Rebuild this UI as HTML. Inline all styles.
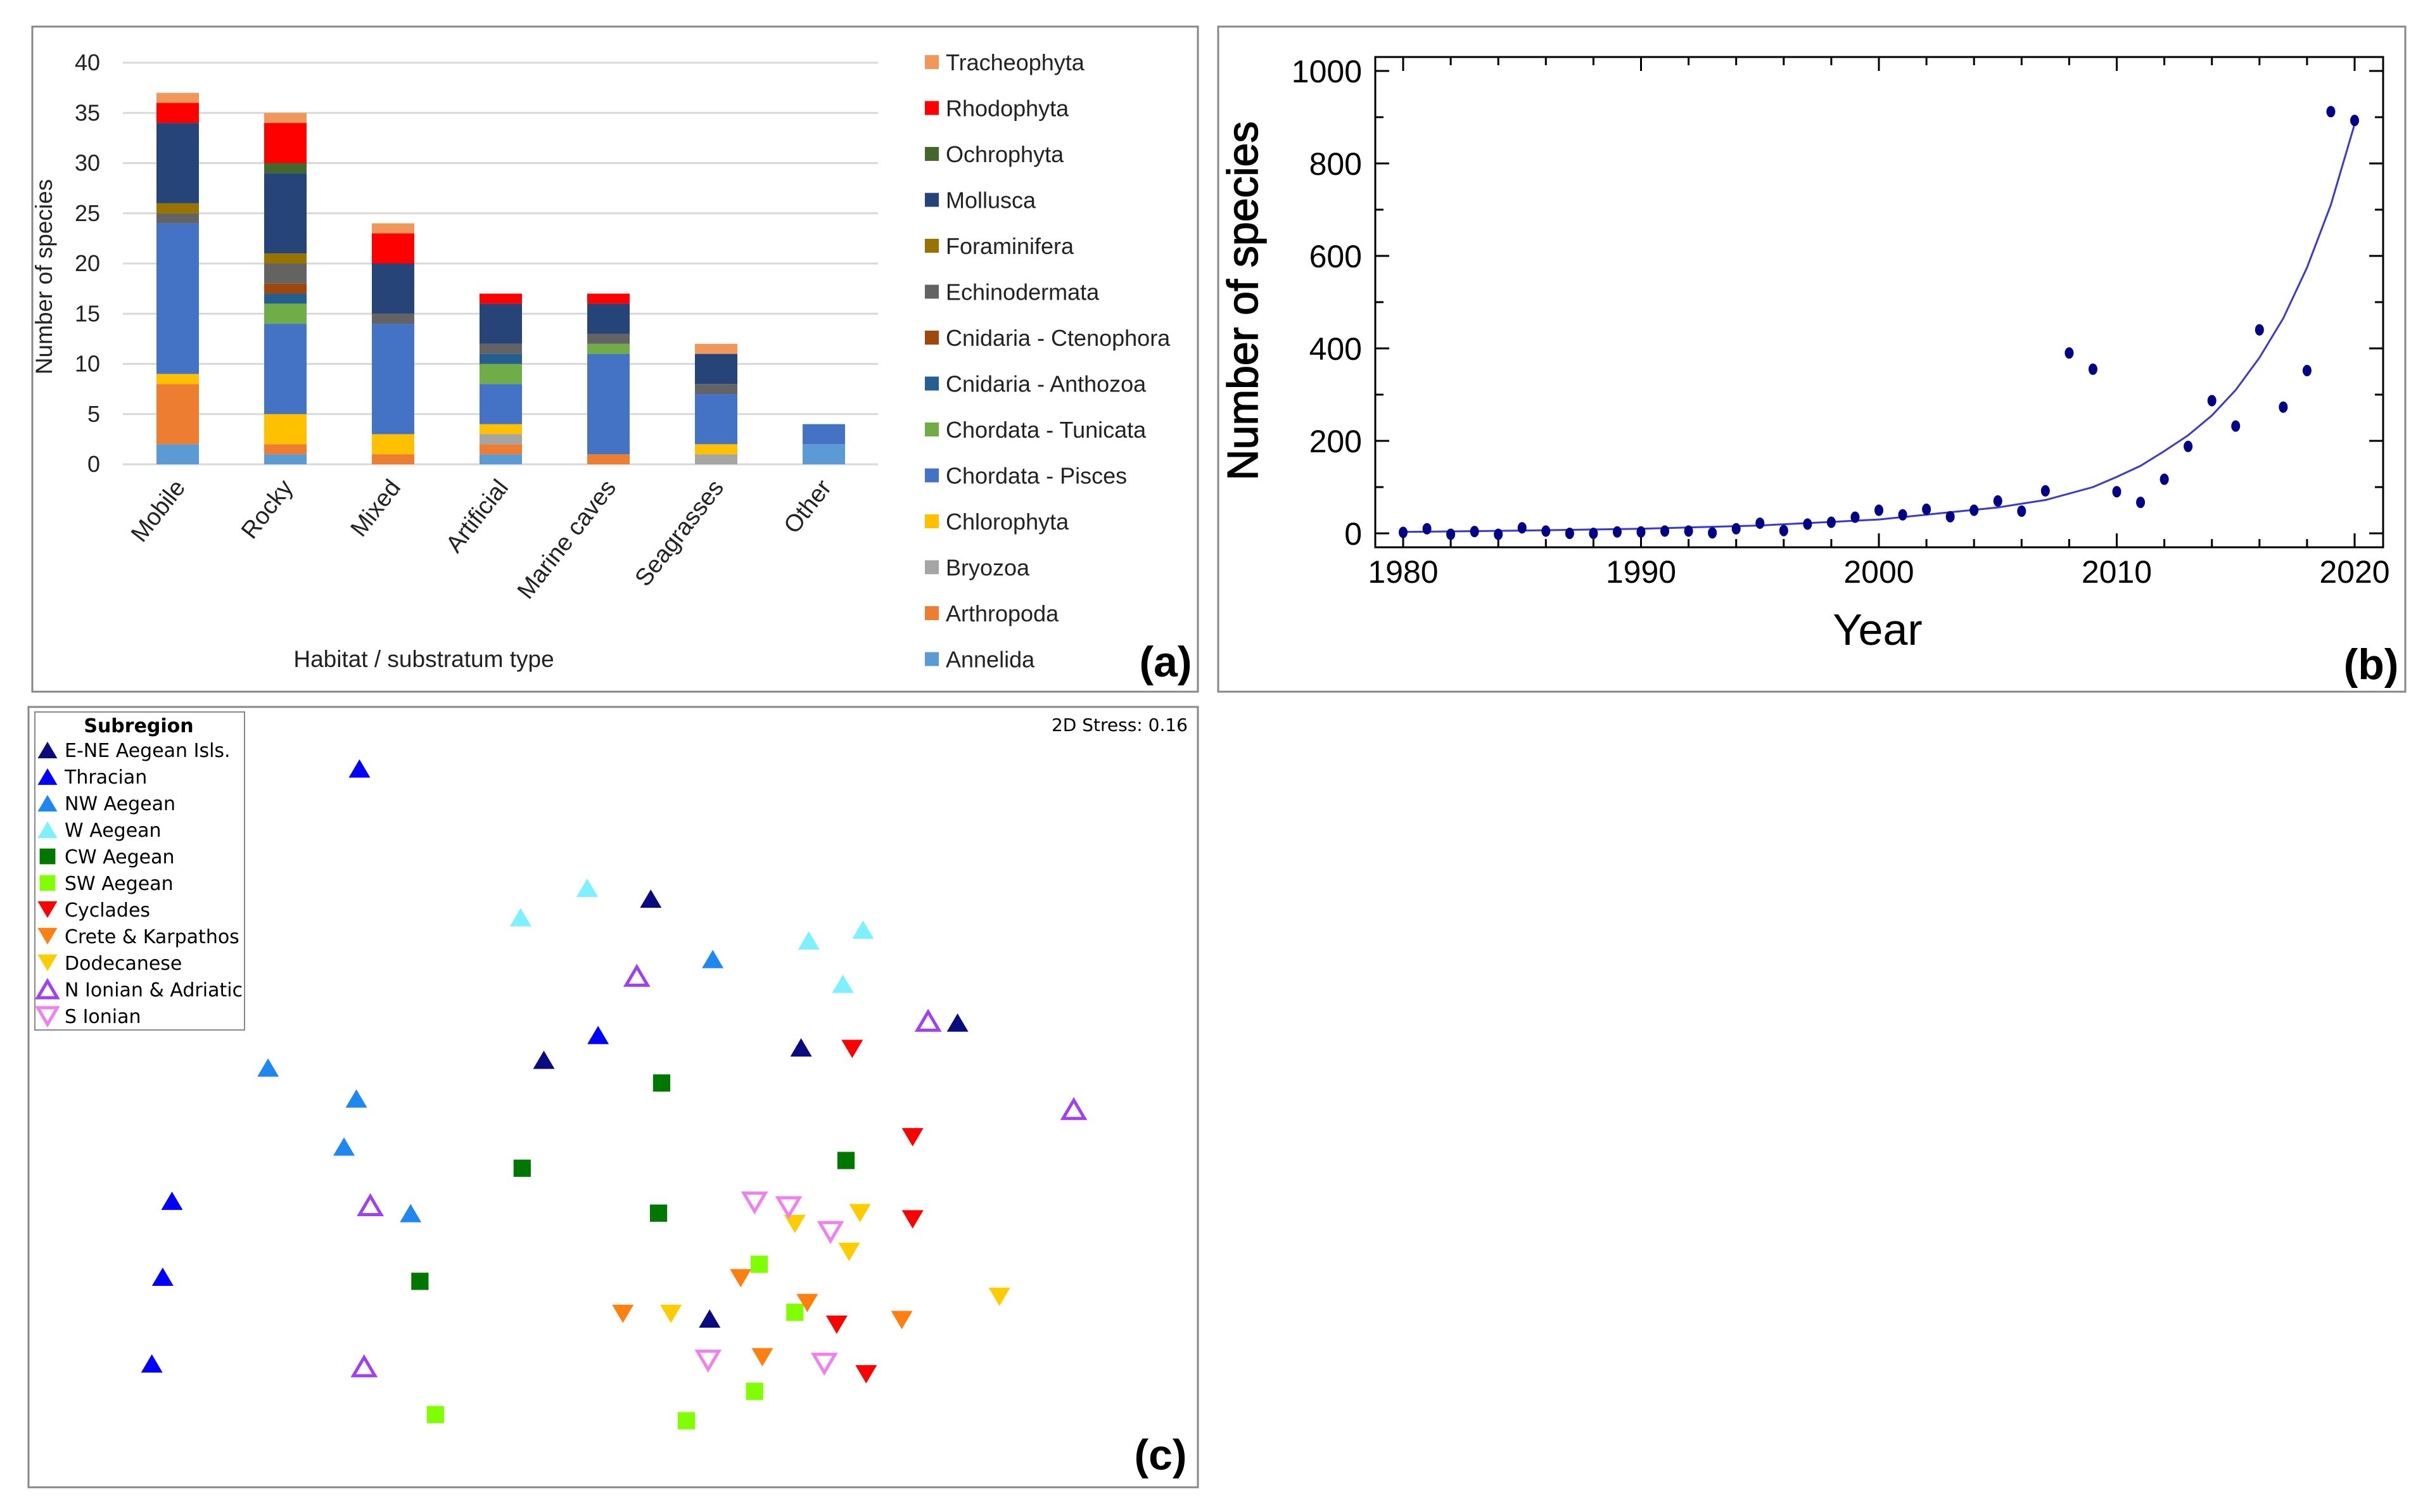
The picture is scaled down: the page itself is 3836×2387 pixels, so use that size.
<!DOCTYPE html>
<html><head><meta charset="utf-8"><style>
html,body{margin:0;padding:0;background:#fff;}
svg{display:block;}
text{font-family:"Liberation Sans",sans-serif;}
</style></head><body>
<svg id="root" width="3836" height="2387" viewBox="0 0 3836 2387" xmlns="http://www.w3.org/2000/svg">
<rect x="0" y="0" width="3836" height="2387" fill="#fff"/>
<g id="pa">
<rect x="51" y="42" width="1840" height="1050" fill="none" stroke="#888" stroke-width="3"/>
<g id="pa-grid"></g><g id="pa-bars"></g><g id="pa-legend"></g>
<text transform="translate(82,437) rotate(-90)" text-anchor="middle" font-size="37" fill="#222">Number of species</text>
<text x="669" y="1053" text-anchor="middle" font-size="37" fill="#222">Habitat / substratum type</text>
<text x="1840" y="1068" text-anchor="middle" font-size="68" font-weight="bold" fill="#000">(a)</text>
</g>
<g id="pb">
<rect x="1923" y="42" width="1874" height="1050" fill="none" stroke="#888" stroke-width="3"/>
<rect x="2171" y="90" width="1591" height="774" fill="none" stroke="#000" stroke-width="3"/>
<g id="pb-axes"></g><g id="pb-marks"></g>
<text transform="translate(1985,475) rotate(-90)" text-anchor="middle" font-size="68" fill="#000" stroke="#000" stroke-width="1.5">Number of species</text>
<text x="2964" y="1018" text-anchor="middle" font-size="70" fill="#000">Year</text>
<text x="3743" y="1072" text-anchor="middle" font-size="68" font-weight="bold" fill="#000">(b)</text>
</g>
<g id="pc">
<rect x="45" y="1116" width="1846" height="1232" fill="none" stroke="#888" stroke-width="3"/>
<g id="pc-marks"></g>
<g id="pc-legend">
<rect x="55" y="1124" width="331" height="502" fill="#fff" stroke="#888" stroke-width="2"/>
<text x="219" y="1156" text-anchor="middle" font-size="30" font-weight="bold" fill="#000" style="font-family:'DejaVu Sans',sans-serif">Subregion</text>
</g>
<text x="1875" y="1154" text-anchor="end" font-size="28" fill="#000" style="font-family:'DejaVu Sans',sans-serif">2D Stress: 0.16</text>
<text x="1832" y="2320" text-anchor="middle" font-size="68" font-weight="bold" fill="#000">(c)</text>
</g>
</svg>
<script>
const NS="http://www.w3.org/2000/svg";
function mk(tag,attrs,parent){const e=document.createElementNS(NS,tag);for(const k in attrs)e.setAttribute(k,attrs[k]);parent.appendChild(e);return e;}

// ===== Panel (a) data =====
const habitats=["Mobile","Rocky","Mixed","Artificial","Marine caves","Seagrasses","Other"];
const taxa=["Annelida","Arthropoda","Bryozoa","Chlorophyta","Chordata - Pisces","Chordata - Tunicata","Cnidaria - Anthozoa","Cnidaria - Ctenophora","Echinodermata","Foraminifera","Mollusca","Ochrophyta","Rhodophyta","Tracheophyta"];
const taxaColors=["#5B9BD5","#ED7D31","#A5A5A5","#FFC000","#4472C4","#70AD47","#255E91","#9E480E","#636363","#997300","#264478","#43682B","#FF0000","#F1975A"];
const annelida=[2,1,0,1,0,0,2];
const arthropoda=[6,1,1,1,1,0,0];
const bryozoa=[0,0,0,1,0,1,0];
const chlorophyta=[1,3,2,1,0,1,0];
const pisces=[15,9,11,4,10,5,2];
const tunicata=[0,2,0,2,1,0,0];
const anthozoa=[0,1,0,1,0,0,0];
const ctenophora=[0,1,0,0,0,0,0];
const echinodermata=[1,2,1,1,1,1,0];
const foraminifera=[1,1,0,0,0,0,0];
const mollusca=[8,8,5,4,3,3,0];
const ochrophyta=[0,1,0,0,0,0,0];
const rhodophyta=[2,4,3,1,1,0,0];
const tracheophyta=[1,1,1,0,0,1,0];
const aTicks=[0,5,10,15,20,25,30,35,40];
const seriesA=[annelida,arthropoda,bryozoa,chlorophyta,pisces,tunicata,anthozoa,ctenophora,echinodermata,foraminifera,mollusca,ochrophyta,rhodophyta,tracheophyta];

const ayScale=v=>733-(733-99)*v/40;
const axScale=i=>247+170*i;
const gA=document.getElementById('pa-grid');
aTicks.forEach(t=>{
  const l=mk('line',{x1:194,x2:1386,y1:ayScale(t),y2:ayScale(t),stroke:'#d9d9d9','stroke-width':3},gA);
  
  
  const tx=mk('text',{x:158,y:ayScale(t)+12,'text-anchor':'end','font-size':36,fill:'#222'},gA);
  
  
  tx.textContent=t;
});
const bA=document.getElementById('pa-bars');
habitats.forEach((h,i)=>{
  let cum=0;
  seriesA.forEach((s,k)=>{
    const v=s[i]; if(!v) return;
    const r=mk('rect',{x:axScale(i),width:67,y:ayScale(cum+v),height:ayScale(cum)-ayScale(cum+v),fill:taxaColors[k]},bA);
    
    
    cum+=v;
  });
  const cx=axScale(i)+33+14;
  const lb=mk('text',{transform:`translate(${cx},770) rotate(-52)`,'text-anchor':'end','font-size':38,fill:'#222'},bA);
  
  
  lb.textContent=h;
});
const lA=document.getElementById('pa-legend');
for(let j=0;j<taxa.length;j++){
  const k=taxa.length-1-j; const y=98+j*72.5;
  const sq=mk('rect',{x:1460,y:y-11,width:22,height:22,fill:taxaColors[k]},lA);
  
  
  const t=mk('text',{x:1493,y:y+13,'font-size':36,fill:'#222'},lA);
  
  
  t.textContent=taxa[k];
}

// ===== Panel (b) data =====
const years=[1980,1981,1982,1983,1984,1985,1986,1987,1988,1989,1990,1991,1992,1993,1994,1995,1996,1997,1998,1999,2000,2001,2002,2003,2004,2005,2006,2007,2008,2009,2010,2011,2012,2013,2014,2015,2016,2017,2018,2019,2020];
const counts=[2,10,-2,4,-2,12,5,0,0,3,3,5,5,1,10,22,6,20,24,35,50,40,52,36,50,70,48,92,390,355,90,67,117,188,287,232,440,273,352,912,893];
const fitYears=[1980,1985,1990,1995,2000,2005,2007,2009,2010,2011,2012,2013,2014,2015,2016,2017,2018,2019,2020];
const fitValues=[3,6,10,17,30,56,72,100,122,146,178,212,255,310,380,465,575,710,885];
const bxTicks=[1980,1990,2000,2010,2020];
const byTicks=[0,200,400,600,800,1000];

const bx=v=>2215+(3717-2215)*(v-1980)/40;
const by=v=>842-(842-112)*v/1000;
const gB=document.getElementById('pb-axes');
for(let v=-100;v<=1100;v+=100){
  const y=by(v); if(y<92||y>862) continue;
  const len=v%200===0?22:13;
  const l1=mk('line',{x1:2171,x2:2171+len,y1:y,y2:y,stroke:'#000','stroke-width':3},gB);
   
  const l2=mk('line',{x1:3762-len,x2:3762,y1:y,y2:y,stroke:'#000','stroke-width':3},gB);
   
}
for(let v=1978;v<=2022;v+=2){
  const x=bx(v); if(x<2173||x>3760) continue;
  const len=v%10===0?22:13;
  const l1=mk('line',{x1:x,x2:x,y1:864,y2:864-len,stroke:'#000','stroke-width':3},gB);
   
  const l2=mk('line',{x1:x,x2:x,y1:90,y2:90+len,stroke:'#000','stroke-width':3},gB);
   
}
byTicks.forEach(t=>{
  const tx=mk('text',{x:2150,y:by(t)+18,'text-anchor':'end','font-size':50,fill:'#000'},gB);
   
  tx.textContent=t;
});
bxTicks.forEach(t=>{
  const tx=mk('text',{x:bx(t),y:920,'text-anchor':'middle','font-size':50,fill:'#000'},gB);
   
  tx.textContent=t;
});
const mB=document.getElementById('pb-marks');
let d='';
fitYears.forEach((y,i)=>{d+=(i?'L':'M')+bx(y).toFixed(1)+','+by(fitValues[i]).toFixed(1);});
const fit=mk('path',{d:d,fill:'none',stroke:'#3a3acc','stroke-width':3},mB);


years.forEach((y,i)=>{
  const c=mk('ellipse',{cx:bx(y),cy:by(counts[i]),rx:7,ry:9,fill:'#000088'},mB);
  
  
});

// ===== Panel (c) data =====
const groups=["E-NE Aegean Isls.","Thracian","NW Aegean","W Aegean","CW Aegean","SW Aegean","Cyclades","Crete & Karpathos","Dodecanese","N Ionian & Adriatic","S Ionian"];
const groupColors=["#0b0b80","#0000ff","#1e88f0","#7ff0ff","#007800","#80ff00","#ff0000","#ff8010","#ffcc00","#a040f0","#f080f0"];
const groupShapes=["up","up","up","up","sq","sq","down","down","down","upo","downo"];
const mdsX=[[420,351,517,618,458],[232,386,111,105,98],[460,173,230,222,265],[336,379,522,557,544],[427,337,546,425,271],[490,513,487,443,281],[550,589,589,540,559],[478,402,521,582,492],[513,555,548,433,645],[411,599,693,239,235],[487,509,536,457,532]];
const mdsY=[[580,684,676,660,851],[496,668,775,824,880],[619,689,709,740,783],[592,573,607,600,635],[699,754,749,783,827],[816,847,898,917,913],[677,734,787,855,887],[825,848,841,852,876],[790,783,808,848,837],[630,659,716,778,882],[776,779,795,878,880]];

const cx=v=>v*2.446;
const cy=v=>v*2.446;
function marker(shape,x,y,col,parent,s){
  const w=s, h=s*0.85;
  if(shape==='sq') return mk('rect',{x:x-s*0.4,y:y-s*0.4,width:s*0.8,height:s*0.8,fill:col},parent);
  if(shape==='up'||shape==='upo'){
    const p=`${x-w/2},${y+h/2} ${x+w/2},${y+h/2} ${x},${y-h/2}`;
    return shape==='up'?mk('polygon',{points:p,fill:col},parent):mk('polygon',{points:p,fill:'none',stroke:col,'stroke-width':5},parent);
  }
  const p=`${x-w/2},${y-h/2} ${x+w/2},${y-h/2} ${x},${y+h/2}`;
  return shape==='down'?mk('polygon',{points:p,fill:col},parent):mk('polygon',{points:p,fill:'none',stroke:col,'stroke-width':5},parent);
}
const mC=document.getElementById('pc-marks');
groups.forEach((g,gi)=>{
  mdsX[gi].forEach((vx,i)=>{
    const m=marker(groupShapes[gi],cx(vx),cy(mdsY[gi][i]),groupColors[gi],mC,34);
    
    
  });
});
const lC=document.getElementById('pc-legend');
groups.forEach((g,gi)=>{
  const y=1184+gi*42;
  const m=marker(groupShapes[gi],75,y,groupColors[gi],lC,31);
  
  
  const t=mk('text',{x:102,y:y+11,'font-size':30,fill:'#000',style:"font-family:'DejaVu Sans',sans-serif"},lC);
  
  
  t.textContent=g;
});
</script>
</body></html>
